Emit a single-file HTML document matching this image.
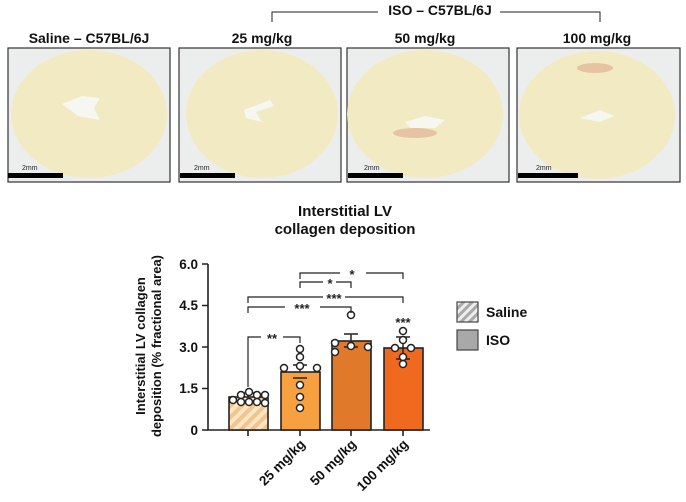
<!DOCTYPE html>
<html><head><meta charset="utf-8"><style>
html,body{margin:0;padding:0;background:#fff;}
svg{display:block;font-family:"Liberation Sans",Arial,sans-serif;}
</style></head><body>
<svg width="686" height="502" viewBox="0 0 686 502" xmlns="http://www.w3.org/2000/svg">
<defs>
<pattern id="h1" patternUnits="userSpaceOnUse" width="8" height="8" patternTransform="rotate(45)">
<rect width="8" height="8" fill="#fbe6c8"/><rect width="4" height="8" fill="#f3c48c"/></pattern>
<pattern id="h2" patternUnits="userSpaceOnUse" width="6" height="6" patternTransform="rotate(45)">
<rect width="6" height="6" fill="#eee"/><rect width="3" height="6" fill="#aaa"/></pattern>
</defs>
<g font-weight="bold" font-size="14" fill="#111" text-anchor="middle">
<text x="89" y="43">Saline – C57BL/6J</text>
<text x="262" y="43">25 mg/kg</text>
<text x="425" y="43">50 mg/kg</text>
<text x="597" y="43">100 mg/kg</text>
<text x="440" y="15">ISO – C57BL/6J</text>
</g>
<path d="M272 22V12H378M500 12H600V22" fill="none" stroke="#222" stroke-width="1"/>
<g stroke="#333" stroke-width="1.2" fill="#eceeee">
<rect x="8" y="48" width="162" height="134"/>
<rect x="179" y="48" width="162" height="134"/>
<rect x="347" y="48" width="162" height="134"/>
<rect x="517" y="48" width="163" height="134"/>
</g>
<g fill="#f2eac2">
<ellipse cx="89" cy="114" rx="78" ry="64"/>
<ellipse cx="262" cy="114" rx="76" ry="64"/>
<ellipse cx="425" cy="114" rx="78" ry="64"/>
<ellipse cx="597" cy="115" rx="78" ry="64"/>
</g>
<g fill="#f7f7f2">
<path d="M62 104l20-8 18 2-6 10 6 12-22-4z"/>
<path d="M244 110l26-10 4 6-18 6 6 10-16-4z"/>
<path d="M405 122l20-6 20 4-10 8-24 0z"/>
<path d="M580 118l20-8 14 6-14 6z"/>
</g>
<g fill="#d07a6a" opacity="0.35"><ellipse cx="415" cy="133" rx="22" ry="5"/><ellipse cx="595" cy="68" rx="18" ry="5"/></g>
<g fill="#000"><rect x="8" y="173" width="55" height="5"/><rect x="180" y="173" width="55" height="5"/><rect x="348" y="173" width="55" height="5"/><rect x="518" y="173" width="60" height="5"/></g>
<g font-size="7" fill="#222"><text x="22" y="170">2mm</text><text x="194" y="170">2mm</text><text x="364" y="170">2mm</text><text x="536" y="170">2mm</text></g>
<g font-weight="bold" font-size="15" fill="#111" text-anchor="middle">
<text x="345" y="216">Interstitial LV</text><text x="345" y="234">collagen deposition</text></g>
<g font-weight="bold" font-size="13" fill="#111" text-anchor="middle">
<text transform="translate(145,346) rotate(-90)">Interstitial LV collagen</text>
<text transform="translate(161,346) rotate(-90)">deposition (% fractional area)</text></g>
<g stroke="#222" stroke-width="1.6" fill="none">
<path d="M208 264V430H430"/>
<path d="M202 264h6M202 305.5h6M202 347h6M202 388.5h6M202 430h6"/>
<path d="M248 430v6M300 430v6M351 430v6M403 430v6"/>
</g>
<g font-weight="bold" font-size="13.5" fill="#111" text-anchor="end">
<text x="198" y="269">6.0</text><text x="198" y="310">4.5</text><text x="198" y="352">3.0</text><text x="198" y="393">1.5</text><text x="198" y="435">0</text></g>
<g stroke="#222" stroke-width="1.6">
<rect x="229" y="397" width="39" height="33" fill="url(#h1)"/>
<rect x="281" y="372" width="39" height="58" fill="#f7a040"/>
<rect x="332" y="341" width="39" height="89" fill="#e07a2a"/>
<rect x="384" y="348" width="39" height="82" fill="#ef6a1e"/>
</g>
<g stroke="#222" stroke-width="1.5" fill="none">
<path d="M248 397v-4M242 393h12"/>
<path d="M300 372v-7M293 365h14M293 378h14"/>
<path d="M351 341v-7M344 334h14M344 347h14"/>
<path d="M403 348v-11M396 337h14M396 359h14M403 348v11"/>
</g>
<g fill="#fff" stroke="#222" stroke-width="1.5">
<circle cx="233" cy="400" r="3.5"/><circle cx="241" cy="395" r="3.5"/><circle cx="249" cy="392" r="3.5"/><circle cx="257" cy="395" r="3.5"/><circle cx="265" cy="395" r="3.5"/><circle cx="265" cy="403" r="3.5"/><circle cx="241" cy="402" r="3.5"/><circle cx="249" cy="402" r="3.5"/><circle cx="257" cy="402" r="3.5"/>
<circle cx="284" cy="368" r="3.5"/><circle cx="300" cy="349" r="3.5"/><circle cx="300" cy="357" r="3.5"/><circle cx="300" cy="366" r="3.5"/><circle cx="317" cy="368" r="3.5"/><circle cx="300" cy="385" r="3.5"/><circle cx="300" cy="397" r="3.5"/><circle cx="300" cy="408" r="3.5"/>
<circle cx="351" cy="315" r="3.5"/><circle cx="335" cy="343" r="3.5"/><circle cx="335" cy="352" r="3.5"/><circle cx="351" cy="346" r="3.5"/><circle cx="368" cy="347" r="3.5"/>
<circle cx="403" cy="331" r="3.5"/><circle cx="403" cy="340" r="3.5"/><circle cx="395" cy="348" r="3.5"/><circle cx="411" cy="348" r="3.5"/><circle cx="403" cy="357" r="3.5"/><circle cx="403" cy="364" r="3.5"/>
</g>
<g stroke="#222" stroke-width="1.2" fill="none">
<path d="M300 279v-6h40M366 273h37v6"/>
<path d="M300 288v-6h23M336 282h15v6"/>
<path d="M248 303v-6h75M345 297h58v6"/>
<path d="M248 313v-6h37M320 307h31v6"/>
<path d="M248 387v-50h13M283 337h17v6"/>
</g>
<g font-weight="bold" font-size="13" fill="#222" text-anchor="middle">
<text x="352" y="279">*</text><text x="330" y="288">*</text><text x="334" y="303">***</text><text x="302" y="313">***</text><text x="272" y="343">**</text><text x="403" y="327">***</text>
</g>
<g font-weight="bold" font-size="13.5" fill="#111" text-anchor="end">
<text transform="translate(306,445) rotate(-45)">25 mg/kg</text>
<text transform="translate(357,445) rotate(-45)">50 mg/kg</text>
<text transform="translate(409,445) rotate(-45)">100 mg/kg</text>
</g>
<rect x="457" y="302" width="21" height="20" fill="url(#h2)" stroke="#444" stroke-width="1.2"/>
<rect x="457" y="330" width="21" height="20" fill="#a8a8a8" stroke="#444" stroke-width="1.2"/>
<g font-weight="bold" font-size="14" fill="#111"><text x="486" y="317">Saline</text><text x="486" y="345">ISO</text></g>
</svg>
</body></html>
